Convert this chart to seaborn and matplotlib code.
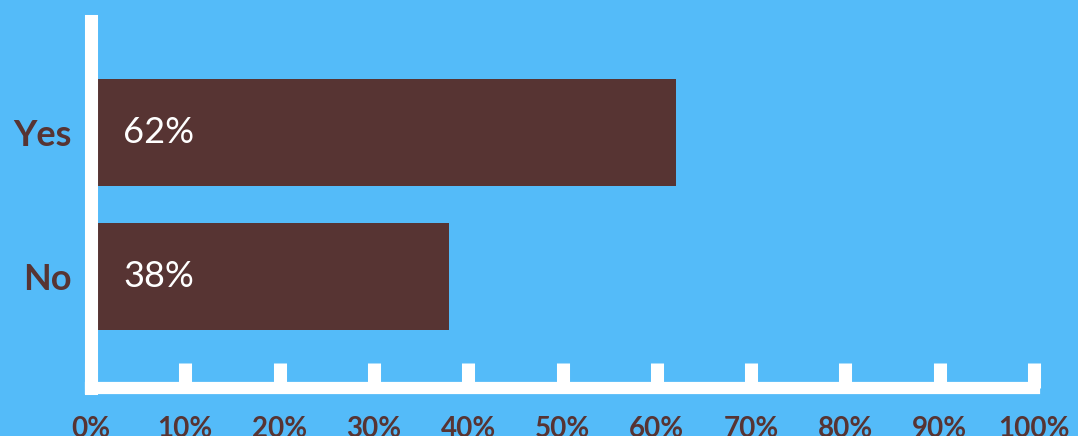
"""
Yes / No poll - horizontal bar chart
"""

import matplotlib
matplotlib.use("Agg")
import matplotlib.pyplot as plt
import seaborn as sns

# DATA
answers = ["Yes", "No"]
shares = [62, 38]
x_ticks = [0, 10, 20, 30, 40, 50, 60, 70, 80, 90, 100]
x_tick_labels = ["0%", "10%", "20%", "30%", "40%", "50%", "60%", "70%", "80%", "90%", "100%"]

# colours
bg = "#54BBF9"
brown = "#573433"

sns.set_style("white")
plt.rcParams["font.family"] = ["Lato", "DejaVu Sans"]

fig = plt.figure(figsize=(10.78, 4.36), dpi=100, facecolor=bg)
ax = fig.add_axes([0.0844, 0.1101, 0.8748, 0.8406])
ax.set_facecolor(bg)

# STEP 1 - BARS
sns.barplot(x=shares, y=answers, color=brown, saturation=1, width=0.743,
            orient="h", linewidth=0, ax=ax)

# value labels inside the bars
for i, v in enumerate(shares):
    ax.annotate(f"{v}%", xy=(0, i), xytext=(23, 0), textcoords="offset points",
                va="center", ha="left", color="white", fontsize=26)

# STEP 2 - AXES
ax.set_xlim(0, 100)
ax.set_ylim(1.774, -0.771)
ax.set_xticks(x_ticks)
ax.set_xticklabels(x_tick_labels)
ax.set_xlabel("")
ax.set_ylabel("")

for side in ["top", "right"]:
    ax.spines[side].set_visible(False)
ax.spines["left"].set_color("white")
ax.spines["left"].set_linewidth(9.4)
ax.spines["bottom"].set_color("white")
ax.spines["bottom"].set_linewidth(8.8)

ax.tick_params(axis="x", bottom=True, direction="in", length=18, width=9.4,
               color="white", pad=20, labelsize=20, labelcolor=brown)
ax.tick_params(axis="y", left=False, length=0, pad=14, labelsize=26,
               labelcolor=brown)
for lbl in ax.get_xticklabels() + ax.get_yticklabels():
    lbl.set_fontweight("bold")

fig.savefig("out.png", dpi=100, facecolor=bg)
